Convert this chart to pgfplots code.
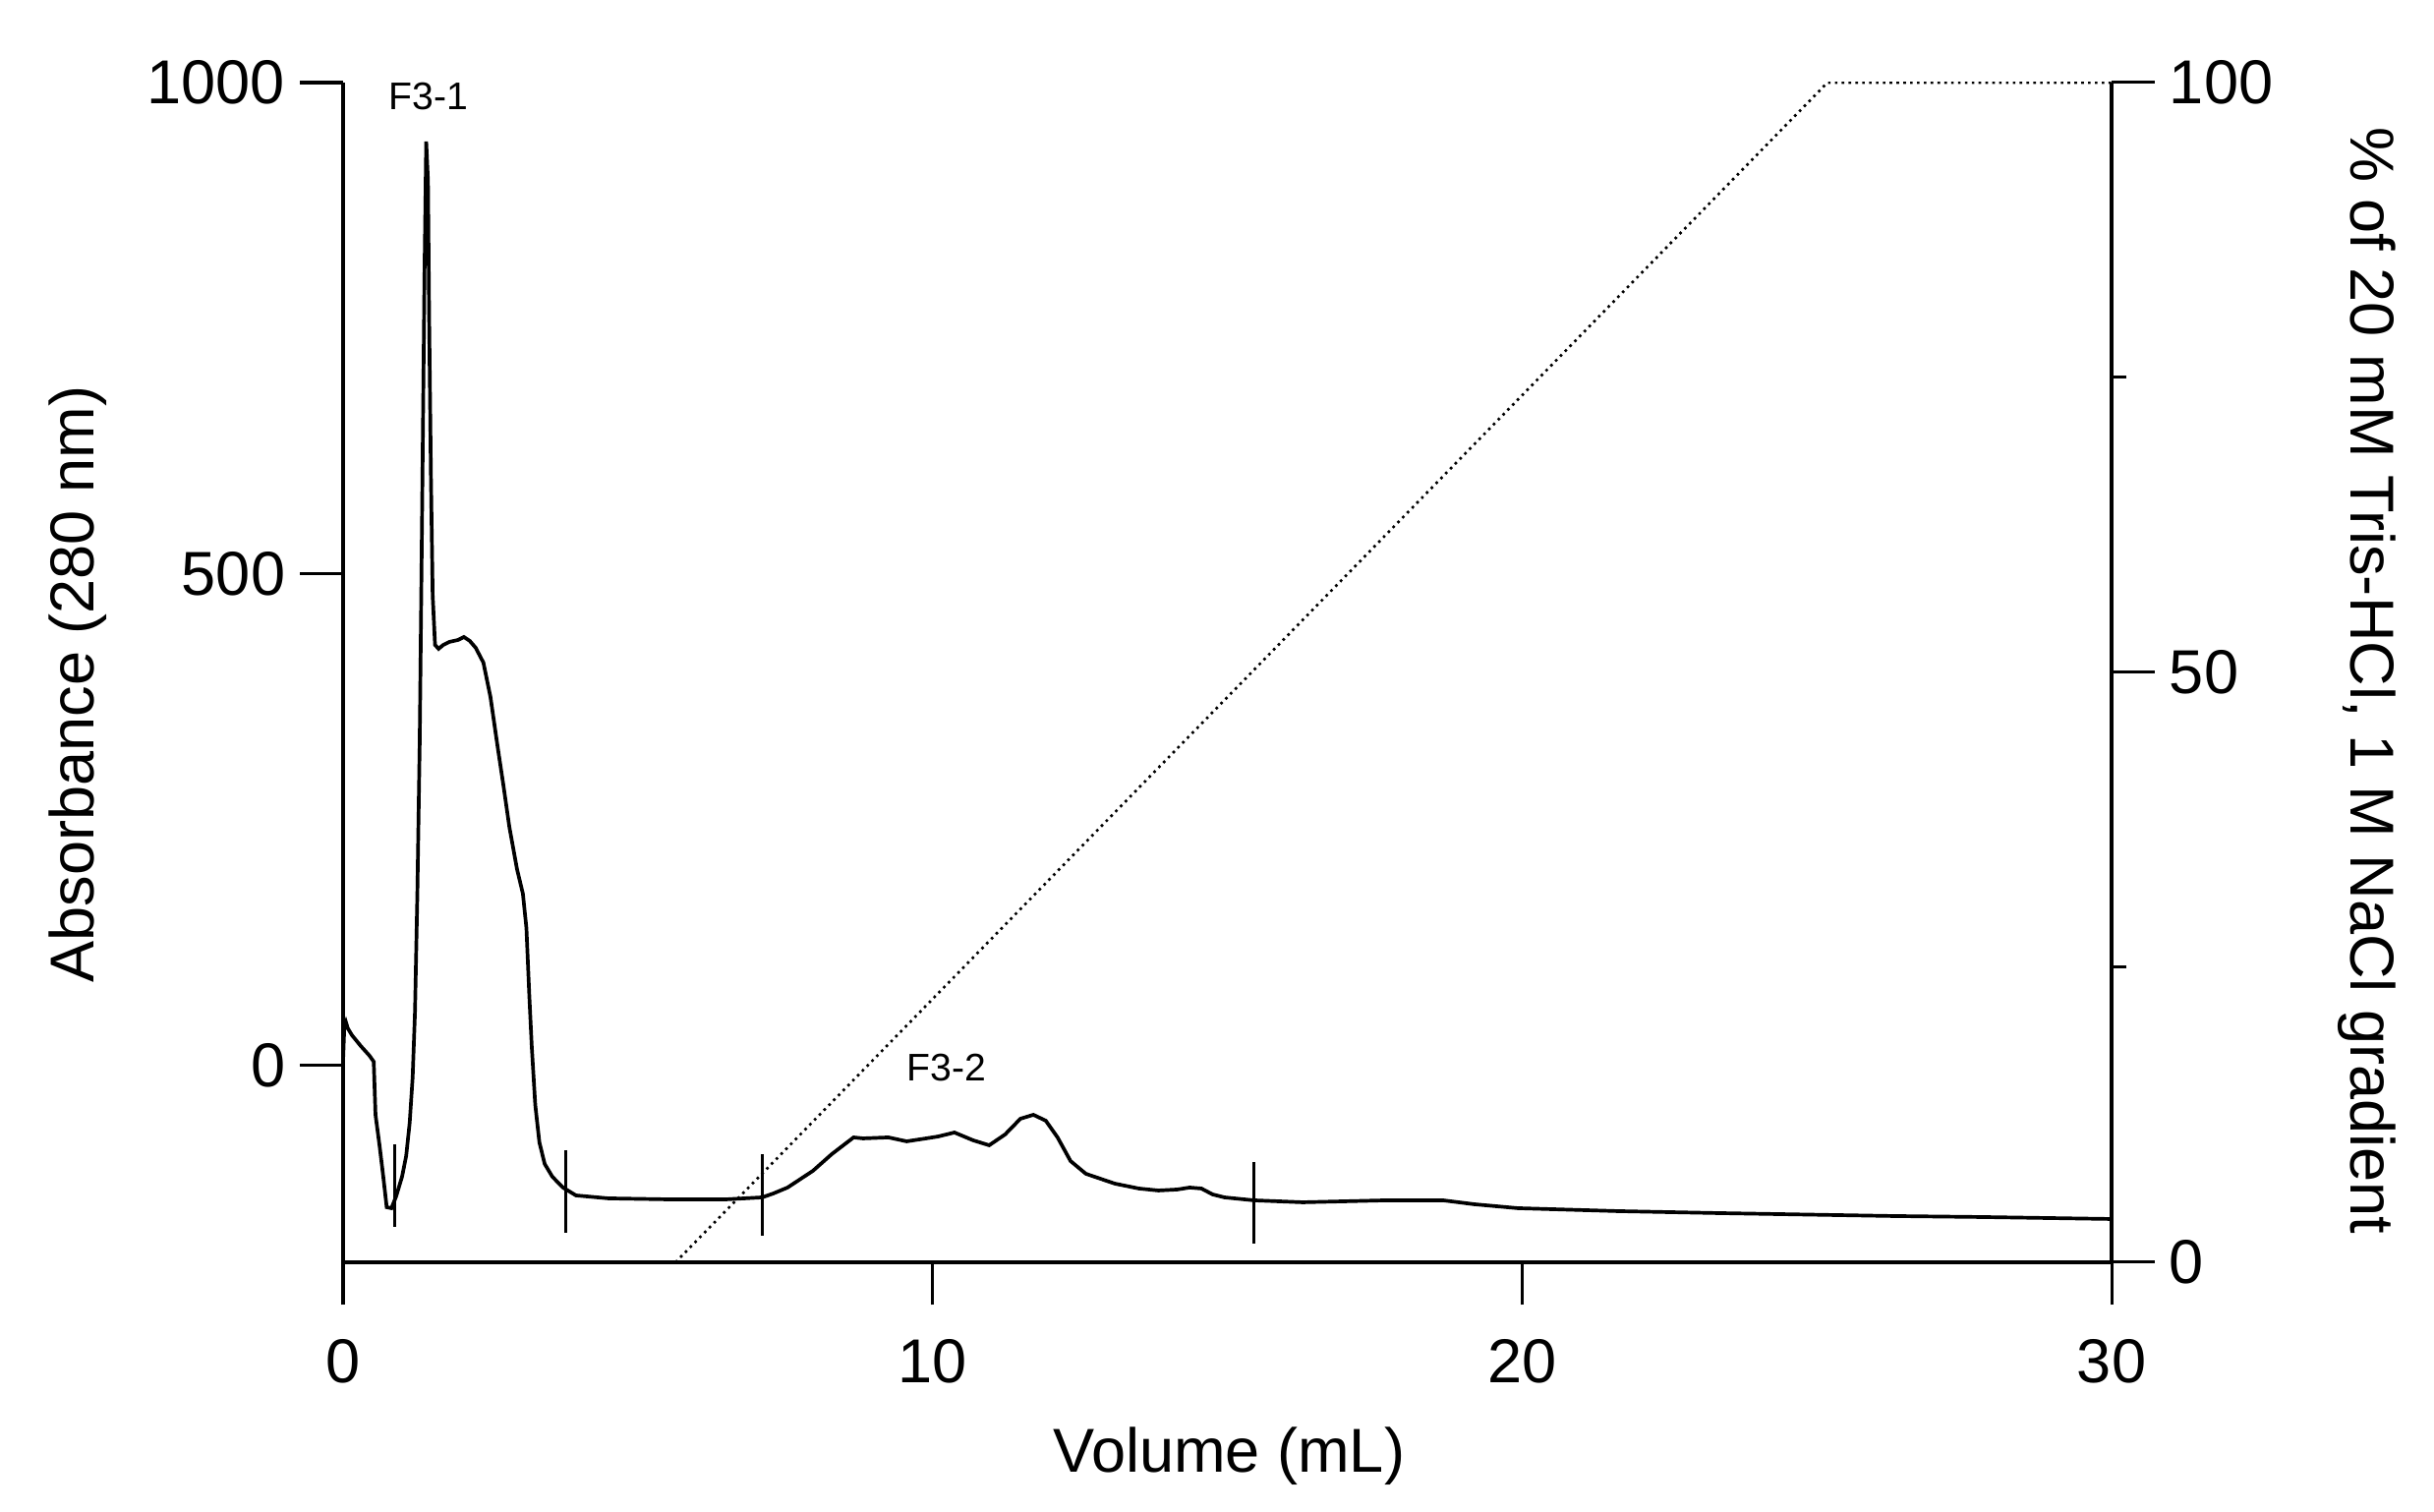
\documentclass[border=0pt]{standalone}
\usepackage{fontspec}
\setmainfont{Liberation Sans}
\usepackage{pgfplots}
\pgfplotsset{compat=1.18}

\pgfplotsset{
  chrom/.style={
    width=14.532cm, height=9.693cm, scale only axis,
    xmin=0, xmax=30,
    tick align=outside,
    major tick length=10pt, minor tick length=3.5pt,
    axis line style={-, line width=0.9pt},
    tick style={black, line width=0.7pt},
    /pgf/number format/assume math mode=true,
    /pgf/number format/1000 sep={},
    tick label style={font=\fontsize{14.5}{17}\selectfont},
    label style={font=\fontsize{14.5}{17}\selectfont},
  }
}

\begin{document}
\begin{tikzpicture}
\begin{axis}[chrom,
  ymin=-200, ymax=1000,
  axis x line*=bottom, axis y line*=left,
  xtick={0,10,20,30}, ytick={0,500,1000},
  xticklabel style={yshift=-4.5pt},
  xlabel={Volume (mL)},
  ylabel={Absorbance (280 nm)},
  x label style={at={(rel axis cs:0.501,-0.164)}, anchor=center},
  y label style={at={(rel axis cs:-0.150,0.49)}, anchor=center},
  unbounded coords=jump,
]
% absorbance trace
\addplot[black, line width=0.85pt] coordinates {
  (0.00,5)(0.02,38)(0.05,44)(0.08,38)(0.15,31)(0.30,20)(0.45,10)(0.52,4)
  (0.55,-50)(0.62,-82)(0.68,-112)(0.74,-144)(0.82,-145)(0.90,-133)
  (1.00,-113)(1.07,-92)(1.13,-58)(1.18,-12)(1.22,55)(1.26,175)(1.30,330)
  (1.34,560)(1.38,800)(1.41,940)(1.44,900)(1.46,760)(1.49,600)(1.52,478)
  (1.56,428)(1.62,424)(1.70,428)(1.80,431)(1.95,433)(2.05,436)(2.15,432)
  (2.25,425)(2.38,410)(2.50,375)(2.62,325)(2.72,285)(2.82,243)(2.95,200)
  (3.05,175)(3.11,140)(3.16,70)(3.20,20)(3.26,-40)(3.33,-78)(3.42,-100)
  (3.55,-113)(3.73,-124)(3.95,-132)(4.50,-135)(5.50,-136)(6.50,-136)
  (7.11,-134)(7.30,-130)(7.54,-124)(7.97,-107)(8.29,-90)(8.66,-73)
  (8.82,-74)(9.25,-73)(9.56,-77)(9.89,-74)(10.10,-72)(10.37,-68)
  (10.69,-76)(10.96,-81)(11.23,-70)(11.49,-54)(11.71,-50)(11.92,-56)
  (12.12,-73)(12.34,-97)(12.60,-110)(13.09,-120)(13.50,-125)(13.83,-127)
  (14.15,-126)(14.36,-124)(14.56,-125)(14.75,-131)(14.95,-134)(15.45,-137)
  (16.28,-139)(17.69,-137)(18.66,-137)(19.19,-141)(19.93,-145)(21.63,-148)
  (23.33,-150)(26.31,-153)(27.80,-154)(30.00,-156)
};
% fraction markers
\addplot[black, line width=0.7pt] coordinates {
  (0.87,-80)(0.87,-164) (nan,nan)
  (3.77,-86)(3.77,-170) (nan,nan)
  (7.11,-90)(7.11,-173) (nan,nan)
  (15.45,-98)(15.45,-181)
};
\node[font=\fontsize{9}{11}\selectfont] at (axis cs:1.45,986) {F3-1};
\node[font=\fontsize{9}{11}\selectfont] at (axis cs:10.24,-2) {F3-2};
\coordinate (bl) at (rel axis cs:-0.1940,-0.2117);
\coordinate (tr) at (rel axis cs:1.1823,1.07);
\end{axis}
\begin{axis}[chrom,
  ymin=0, ymax=100,
  axis x line=none, axis y line*=right,
  ytick={0,50,100}, minor ytick={25,75},
  ylabel={\% of 20 mM Tris-HCl, 1 M NaCl gradient},
  y label style={at={(rel axis cs:1.1446,0.493)}, anchor=center, rotate=180},
]
% gradient
\addplot[black, line width=0.6pt, densely dotted] coordinates {
  (5.64,0)(25.18,100)(30,100)
};
\end{axis}
\pgfresetboundingbox
\path (bl) rectangle (tr);
\end{tikzpicture}
\end{document}
